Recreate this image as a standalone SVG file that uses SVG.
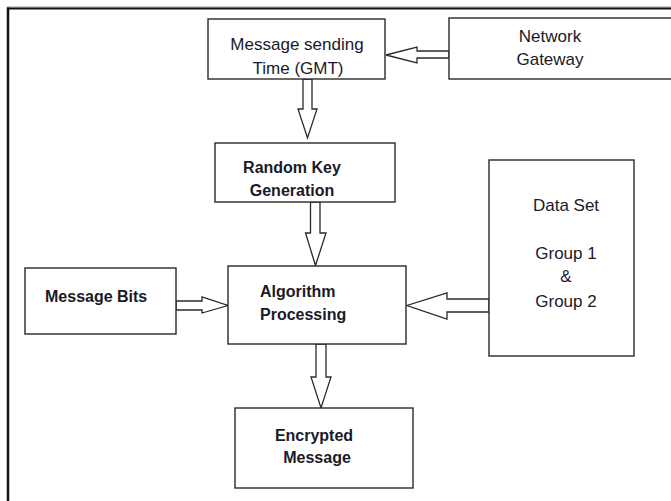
<svg xmlns="http://www.w3.org/2000/svg" width="671" height="501" viewBox="0 0 671 501">
<style>
.box{fill:#fff;stroke:#2a2a2a;stroke-width:1.4}
.arr{fill:#fff;stroke:#2a2a2a;stroke-width:1.3;stroke-linejoin:miter}
.t{font-family:"Liberation Sans",Arial,sans-serif;font-size:17px;fill:#1a1a28}
.b{font-family:"Liberation Sans",Arial,sans-serif;font-size:16px;font-weight:bold;fill:#1a1a28}
.m{text-anchor:middle}
</style>
<rect width="671" height="501" fill="#fff"/>
<g id="frame">
<line x1="7" y1="7" x2="671" y2="7" stroke="#9a9a9a" stroke-width="1"/>
<line x1="7" y1="8.5" x2="671" y2="8.5" stroke="#111" stroke-width="2"/>
<line x1="8" y1="7.5" x2="8" y2="501" stroke="#111" stroke-width="2.5"/>
</g>
<g id="connectors">
<polygon class="arr" points="449,51 417,51 417,47 386,55 417,63 417,58 449,58"/>
<polygon class="arr" points="303,79 312,79 312,109 317,109 307.5,138 298,109 303,109"/>
<polygon class="arr" points="310.5,202 320,202 320,233 326,233 315.5,265.5 305.5,233 310.5,233"/>
<polygon class="arr" points="176,301 202,301 202,297 228,305.5 202,313 202,310 176,310"/>
<polygon class="arr" points="489,299 447,299 447,293 407,305.5 447,319 447,312 489,312"/>
<polygon class="arr" points="316,344 326,344 326,377 331,377 321,408 311,377 316,377"/>
</g>
<g id="message-sending-time">
<rect class="box" x="208" y="19" width="177" height="60"/>
<text class="t m" x="297" y="50">Message sending</text>
<text class="t m" x="298" y="74">Time (GMT)</text>
</g>
<g id="network-gateway">
<rect class="box" x="449" y="18" width="240" height="61"/>
<text class="t m" x="550" y="42">Network</text>
<text class="t m" x="550" y="65">Gateway</text>
</g>
<g id="random-key-generation">
<rect class="box" x="215" y="143" width="180" height="59"/>
<text class="b m" x="292" y="173">Random Key</text>
<text class="b m" x="292" y="196">Generation</text>
</g>
<g id="data-set">
<rect class="box" x="489" y="160" width="145" height="196"/>
<text class="t m" x="566" y="211">Data Set</text>
<text class="t m" x="566" y="259">Group 1</text>
<text class="t m" x="566" y="282">&amp;</text>
<text class="t m" x="566" y="307">Group 2</text>
</g>
<g id="message-bits">
<rect class="box" x="25" y="268" width="151" height="66"/>
<text class="b" x="45" y="302">Message Bits</text>
</g>
<g id="algorithm-processing">
<rect class="box" x="228" y="266" width="178" height="78"/>
<text class="b" x="260" y="297">Algorithm</text>
<text class="b" x="260" y="320">Processing</text>
</g>
<g id="encrypted-message">
<rect class="box" x="235" y="408" width="178" height="80"/>
<text class="b m" x="314" y="441">Encrypted</text>
<text class="b m" x="317" y="463">Message</text>
</g>
</svg>
